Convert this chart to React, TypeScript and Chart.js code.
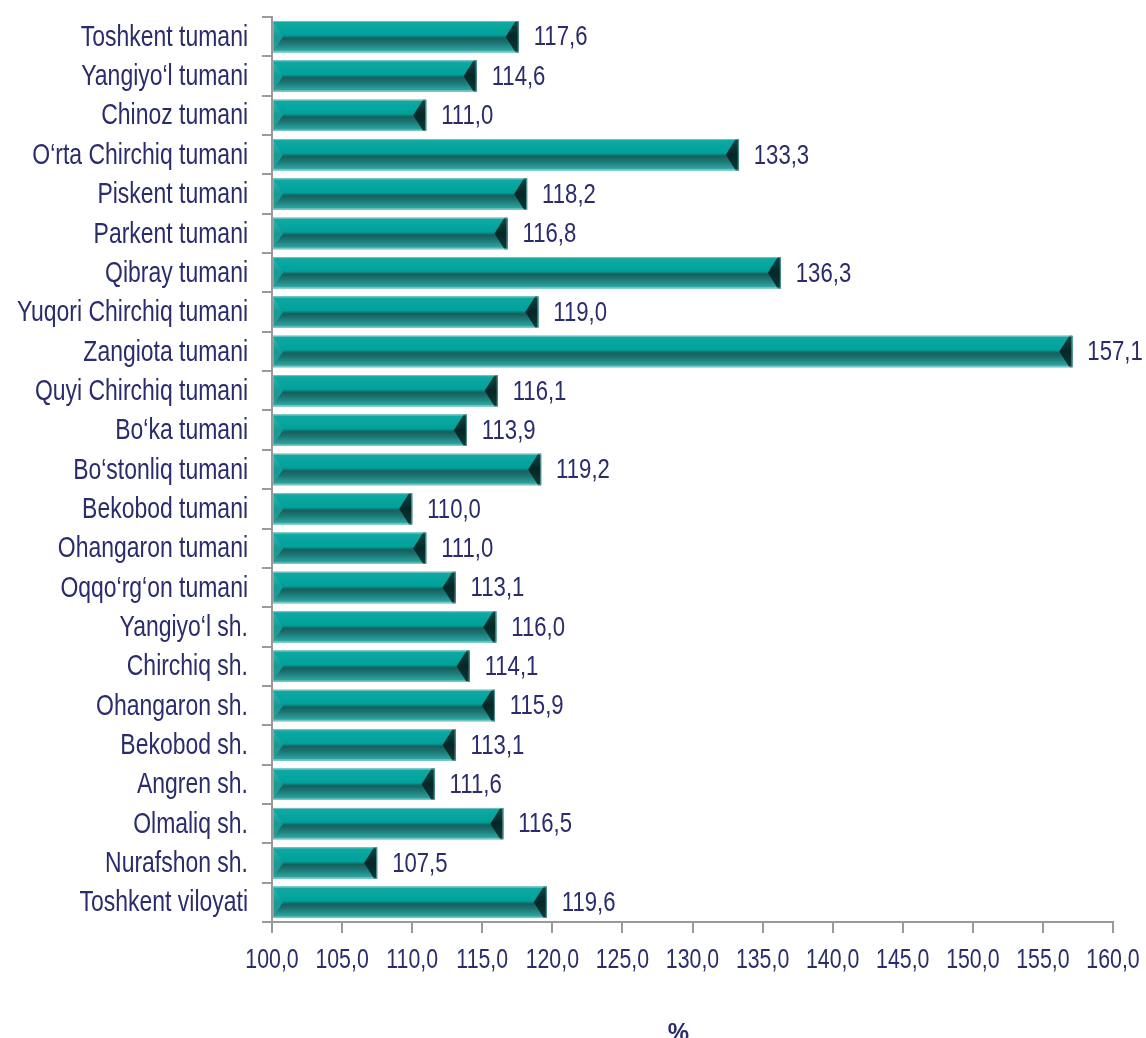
import React, { useEffect, useRef } from "react";
import { Chart, registerables } from "chart.js";

Chart.register(...registerables);

const categories = [
  "Toshkent tumani",
  "Yangiyo‘l tumani",
  "Chinoz tumani",
  "O‘rta Chirchiq tumani",
  "Piskent tumani",
  "Parkent tumani",
  "Qibray tumani",
  "Yuqori Chirchiq tumani",
  "Zangiota tumani",
  "Quyi Chirchiq tumani",
  "Bo‘ka tumani",
  "Bo‘stonliq tumani",
  "Bekobod tumani",
  "Ohangaron tumani",
  "Oqqo‘rg‘on tumani",
  "Yangiyo‘l sh.",
  "Chirchiq sh.",
  "Ohangaron sh.",
  "Bekobod sh.",
  "Angren sh.",
  "Olmaliq sh.",
  "Nurafshon sh.",
  "Toshkent viloyati",
];

const values = [
  117.6, 114.6, 111.0, 133.3, 118.2, 116.8, 136.3, 119.0, 157.1, 116.1, 113.9,
  119.2, 110.0, 111.0, 113.1, 116.0, 114.1, 115.9, 113.1, 111.6, 116.5, 107.5,
  119.6,
];

const axisMin = 100;
const axisMax = 160;
const axisStep = 5;
const axisTitle = "%";

const FONT = "'Liberation Sans', Arial, sans-serif";
const TEXT = "#2a2c6c";
const NARROW = 0.82;

const fmt = (v: number) => v.toFixed(1).replace(".", ",");

function narrowText(
  ctx: CanvasRenderingContext2D,
  text: string,
  x: number,
  y: number,
  size: number,
  align: CanvasTextAlign,
  bold = false,
  squeeze = NARROW
) {
  ctx.save();
  ctx.translate(x, y);
  ctx.scale(squeeze, 1.05);
  ctx.font = `${bold ? "bold " : ""}${size}px ${FONT}`;
  ctx.fillStyle = TEXT;
  ctx.textAlign = align;
  ctx.textBaseline = "middle";
  ctx.fillText(text, 0, 0);
  ctx.restore();
}

const bevelPlugin = {
  id: "bevel",
  afterDatasetsDraw(chart: any) {
    const ctx = chart.ctx;
    const meta = chart.getDatasetMeta(0);
    ctx.save();
    meta.data.forEach((bar: any, i: number) => {
      const { x, y, base, height } = bar.getProps(["x", "y", "base", "height"], true);
      const left = Math.min(base, x);
      const right = Math.max(base, x);
      const top = y - height / 2;
      const bottom = y + height / 2;
      const h = bottom - top;
      const mid = top + h * 0.5;
      const g = ctx.createLinearGradient(0, top, 0, bottom);
      g.addColorStop(0, "#8fd8d4");
      g.addColorStop(0.05, "#10a8a2");
      g.addColorStop(0.45, "#00a19b");
      g.addColorStop(0.55, "#165f5e");
      g.addColorStop(0.7, "#1c7572");
      g.addColorStop(0.93, "#2aa39e");
      g.addColorStop(1, "#a6e0dd");
      ctx.fillStyle = g;
      ctx.fillRect(left, top, right - left, h);
      // left bevel (lighter chevron)
      const gl = ctx.createLinearGradient(0, top, 0, bottom);
      gl.addColorStop(0, "#2fbab3");
      gl.addColorStop(0.5, "#139a94");
      gl.addColorStop(1, "#2e9a96");
      ctx.fillStyle = gl;
      ctx.beginPath();
      ctx.moveTo(left, top + 1);
      ctx.lineTo(left + 10, mid);
      ctx.lineTo(left, bottom - 1);
      ctx.closePath();
      ctx.fill();
      // right bevel (dark chevron)
      const gr = ctx.createLinearGradient(0, top, 0, bottom);
      gr.addColorStop(0, "#0d4644");
      gr.addColorStop(0.5, "#052626");
      gr.addColorStop(1, "#0c3a39");
      ctx.fillStyle = gr;
      ctx.beginPath();
      ctx.moveTo(right, top);
      ctx.lineTo(right - 3, top);
      ctx.lineTo(right - 13, mid);
      ctx.lineTo(right - 3, bottom);
      ctx.lineTo(right, bottom);
      ctx.closePath();
      ctx.fill();
      ctx.strokeStyle = "rgba(120,190,188,0.7)";
      ctx.lineWidth = 1;
      ctx.strokeRect(left + 0.5, top + 0.5, right - left - 1, h - 1);
      narrowText(ctx, fmt(values[i]), right + 15, y + 1, 27, "left");
    });
    ctx.restore();
  },
  afterDraw(chart: any) {
    const ctx = chart.ctx;
    const xs = chart.scales.x;
    const ys = chart.scales.y;
    const area = chart.chartArea;
    categories.forEach((c, i) => {
      const py = ys.getPixelForValue(i);
      narrowText(ctx, c, area.left - 24, py + 1, 28, "right");
    });
    for (let v = axisMin; v <= axisMax + 1e-9; v += axisStep) {
      const px = xs.getPixelForValue(v);
      narrowText(ctx, fmt(v), px, area.bottom + 38, 26, "center");
    }
    narrowText(ctx, axisTitle, (area.left + area.right) / 2 - 14, area.bottom + 112, 24, "center", true, 1);
  },
};

export default function App() {
  const ref = useRef<HTMLCanvasElement | null>(null);
  useEffect(() => {
    if (!ref.current) return;
    const chart = new Chart(ref.current, {
      type: "bar",
      data: {
        labels: categories,
        datasets: [
          {
            data: values,
            base: axisMin,
            backgroundColor: "#00a09a",
            borderWidth: 0,
            barPercentage: 0.8,
            categoryPercentage: 1,
          },
        ],
      },
      options: {
        indexAxis: "y",
        responsive: false,
        animation: false,
        layout: { padding: { top: 17, right: 33, bottom: 0, left: 8 } },
        plugins: {
          legend: { display: false },
          tooltip: { enabled: false },
        },
        scales: {
          x: {
            min: axisMin,
            max: axisMax,
            beginAtZero: false,
            ticks: {
              display: false,
              stepSize: axisStep,
            },
            afterFit: (s: any) => {
              s.height = 116;
            },
            grid: {
              drawOnChartArea: false,
              drawTicks: true,
              tickLength: 11,
              color: "#9a9a9a",
              lineWidth: 2,
            },
            border: { color: "#9a9a9a", width: 2 },
          },
          y: {
            ticks: { display: false },
            afterFit: (s: any) => {
              s.width = 264;
            },
            grid: {
              drawOnChartArea: false,
              drawTicks: true,
              tickLength: 10,
              color: "#9a9a9a",
              lineWidth: 2,
              offset: true,
            },
            border: { color: "#9a9a9a", width: 2 },
          },
        },
      },
      plugins: [bevelPlugin],
    });
    return () => chart.destroy();
  }, []);
  return (
    <div style={{ position: "fixed", left: 0, top: 0, width: 1146, height: 1038, background: "#fff" }}>
      <canvas ref={ref} width={1146} height={1038} />
    </div>
  );
}
